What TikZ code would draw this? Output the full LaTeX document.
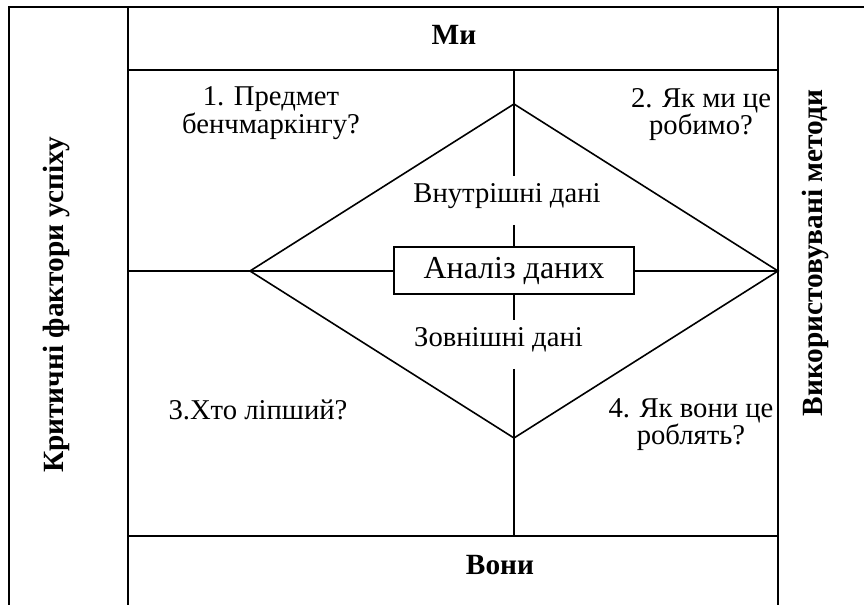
\documentclass[tikz,border=0pt]{standalone}
\usepackage{fontspec}
\setmainfont{Liberation Serif}

\tikzset{every picture/.style={line width=1.5pt}}
\tikzset{
  celltext/.style={inner sep=0.75pt, align=center, font=\fontsize{21.5}{19.5}\selectfont},
  headtext/.style={inner sep=0.75pt, font=\fontsize{22}{25}\selectfont\bfseries},
  analysisbox/.style={draw, inner sep=0pt, minimum width=180pt, minimum height=35.25pt, font=\fontsize{24}{28}\selectfont},
  diamondline/.style={line width=1.2pt}
}

\begin{document}
\begin{tikzpicture}[x=0.75pt,y=0.75pt,yscale=-1,xscale=1]
\useasboundingbox (0,0) rectangle (864,605);

% Grid points
\coordinate (outerTop) at (9,7);
\coordinate (outerBot) at (9,605);
\coordinate (colLTop) at (128,7);
\coordinate (colLBot) at (128,605);
\coordinate (colRTop) at (778,7);
\coordinate (colRBot) at (778,605);
\coordinate (edgeTop) at (864,7);
\coordinate (rowTopL) at (128,70);
\coordinate (rowTopR) at (778,70);
\coordinate (rowBotL) at (128,536);
\coordinate (rowBotR) at (778,536);
\coordinate (midL) at (128,271);
% Diamond corners
\coordinate (diaL) at (250,271);
\coordinate (diaT) at (514,104);
\coordinate (diaR) at (778,271);
\coordinate (diaB) at (514,438);
% Centre line
\coordinate (axisTop) at (514,70);
\coordinate (gapInA) at (514,176);
\coordinate (gapInB) at (514,225);
\coordinate (gapOutA) at (514,320);
\coordinate (gapOutB) at (514,369);
\coordinate (axisBot) at (514,536);

% Rectangle: Analysis box
\node [analysisbox] (analysis) at (514,271) {Аналіз даних};

%Straight Lines: table frame
\draw (outerBot) -- (outerTop) -- (edgeTop);
\draw (colLTop) -- (colLBot);
\draw (colRTop) -- (colRBot);
\draw (rowTopL) -- (rowTopR);
\draw (rowBotL) -- (rowBotR);
%Straight Lines: middle row
\draw (midL) -- (analysis.west);
\draw (analysis.east) -- (diaR);
%Straight Lines: centre axis
\draw (axisTop) -- (gapInA);
\draw (gapInB) -- (analysis.north);
\draw (analysis.south) -- (gapOutA);
\draw (gapOutB) -- (axisBot);
%Shape: Diamond
\draw [diamondline] (diaL) -- (diaT) -- (diaR) -- (diaB) -- cycle;

% Text Node
\node [headtext] (us) at (454,35) {Ми};
% Text Node
\node [headtext] (them) at (500,565) {Вони};
% Text Node
\node [headtext, rotate=90] (factors) at (56,305) {Критичні фактори успіху};
% Text Node
\node [headtext, rotate=90] (methods) at (815,253) {Використовувані методи};
% Text Node
\node [celltext] (subject) at (271,113) {1. Предмет\\бенчмаркінгу?};
% Text Node
\node [celltext] (howWe) at (701,114.5) {2. Як ми це\\робимо?};
% Text Node
\node [celltext] (whoBetter) at (258,410) {3.Хто ліпший?};
% Text Node
\node [celltext] (howThey) at (691,424.5) {4. Як вони це\\роблять?};
% Text Node
\node [celltext] (internal) at (507,196) {Внутрішні дані};
% Text Node
\node [celltext] (external) at (498.5,340) {Зовнішні дані};

\end{tikzpicture}
\end{document}
